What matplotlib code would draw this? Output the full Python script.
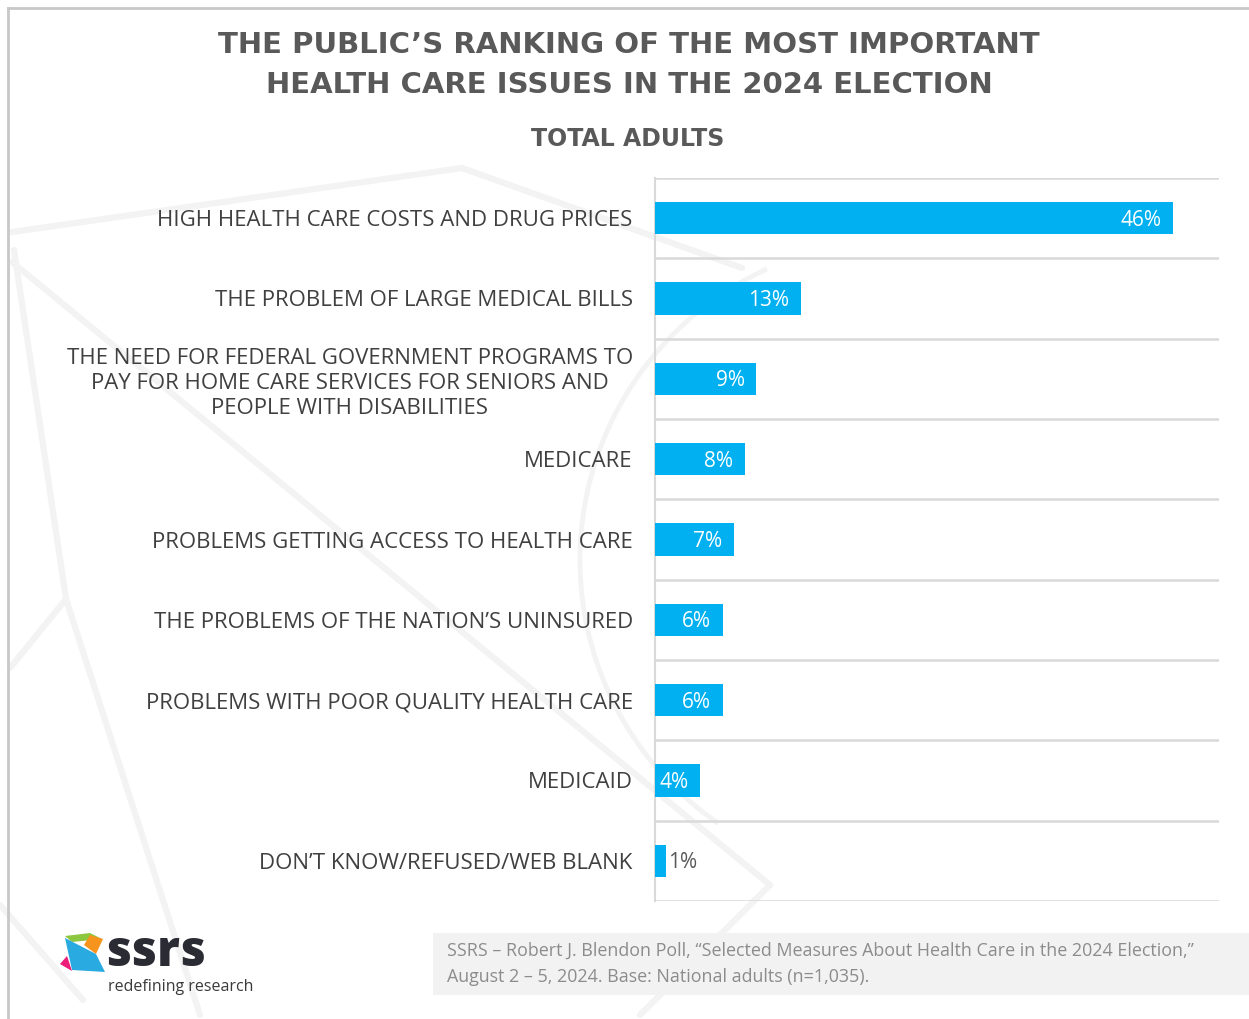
import matplotlib
matplotlib.use("Agg")
import matplotlib.pyplot as plt
from matplotlib.patches import Polygon, Rectangle
from matplotlib.lines import Line2D
import numpy as np

categories = [
    "HIGH HEALTH CARE COSTS AND DRUG PRICES",
    "THE PROBLEM OF LARGE MEDICAL BILLS",
    "THE NEED FOR FEDERAL GOVERNMENT PROGRAMS TO\nPAY FOR HOME CARE SERVICES FOR SENIORS AND\nPEOPLE WITH DISABILITIES",
    "MEDICARE",
    "PROBLEMS GETTING ACCESS TO HEALTH CARE",
    "THE PROBLEMS OF THE NATION\u2019S UNINSURED",
    "PROBLEMS WITH POOR QUALITY HEALTH CARE",
    "MEDICAID",
    "DON\u2019T KNOW/REFUSED/WEB BLANK",
]
values = [46, 13, 9, 8, 7, 6, 6, 4, 1]
value_labels = ["46%", "13%", "9%", "8%", "7%", "6%", "6%", "4%", "1%"]

title = "THE PUBLIC\u2019S RANKING OF THE MOST IMPORTANT\nHEALTH CARE ISSUES IN THE 2024 ELECTION"
subtitle = "TOTAL ADULTS"
source = ("SSRS \u2013 Robert J. Blendon Poll, \u201cSelected Measures About Health Care in the 2024 Election,\u201d\n"
          "August 2 \u2013 5, 2024. Base: National adults (n=1,035).")

W, H = 1249, 1019
fig = plt.figure(figsize=(W / 100, H / 100), dpi=100)
fig.patch.set_facecolor("white")

def fx(x):
    return x / W

def fy(y):
    return 1 - y / H

# faint background watermark lines
wm = "#f3f3f3"
wm_lines = [
    [(12, 232), (462, 168), (742, 268)],
    [(12, 262), (770, 885), (640, 1015)],
    [(14, 250), (66, 599), (200, 1015)],
    [(66, 599), (10, 668)],
    [(0, 905), (83, 1000)],
]
for pts in wm_lines:
    xs = [fx(p[0]) for p in pts]
    ys = [fy(p[1]) for p in pts]
    fig.add_artist(Line2D(xs, ys, color=wm, lw=4.5, solid_capstyle="round",
                          solid_joinstyle="round", zorder=0))
# arc on right
t = np.linspace(np.radians(115), np.radians(235), 80)
cx, cy, rx, ry = 900, 560, 320, 320
ax_arc = [fx(cx + rx * np.cos(a)) for a in t]
ay_arc = [fy(cy - ry * np.sin(a)) for a in t]
fig.add_artist(Line2D(ax_arc, ay_arc, color=wm, lw=3.5, zorder=0))

# outer frame lines
fig.add_artist(Line2D([fx(8), fx(1249)], [fy(8), fy(8)], color="#c8c8c8", lw=2, zorder=1))
fig.add_artist(Line2D([fx(8), fx(8)], [fy(8), fy(1019)], color="#c8c8c8", lw=2, zorder=1))

# main axes
ax = fig.add_axes([fx(655), fy(901), fx(1219) - fx(655), fy(178) - fy(901)])
ax.patch.set_alpha(0)
n = len(categories)
y = np.arange(n)
bar_color = "#00b0f0"
ax.barh(y, values, height=0.4, color=bar_color, zorder=3)
ax.set_xlim(0, 50.1)
ax.set_ylim(n - 0.5, -0.5)
ax.set_xticks([])
ax.set_yticks(y)
ax.set_yticklabels(categories, fontsize=16, family="Open Sans", color="#404040",
                   multialignment="center", linespacing=1.25)
ax.tick_params(axis="y", length=0, pad=16)
for s in ["top", "right", "bottom"]:
    ax.spines[s].set_visible(False)
ax.spines["left"].set_color("#d9d9d9")
ax.spines["left"].set_linewidth(1.5)
for b in np.arange(-0.5, n, 1.0):
    ax.axhline(b, color="#d9d9d9", lw=1.8, zorder=1)

for yi, v, lab in zip(y, values, value_labels):
    if v >= 3:
        ax.annotate(lab, (v, yi), xytext=(-8.5, -1.5), textcoords="offset points",
                    ha="right", va="center", color="white", fontsize=15,
                    family="Open Sans", zorder=4)
    else:
        ax.annotate(lab, (v, yi), xytext=(1.0, -1.5), textcoords="offset points",
                    ha="left", va="center", color="#595959", fontsize=15,
                    family="Open Sans", zorder=4)

# titles
fig.text(fx(629), fy(65), title, ha="center", va="center", fontsize=21,
         family="DejaVu Sans", fontweight="bold",
         color="#595959", linespacing=1.55)
fig.text(fx(628), fy(139), subtitle, ha="center", va="center", fontsize=17,
         family="DejaVu Sans", fontweight="bold",
         color="#595959")

# source box
fig.add_artist(Rectangle((fx(433), fy(995)), fx(1249) - fx(433), fy(933) - fy(995),
                         facecolor="#f2f2f2", edgecolor="none", zorder=1))
fig.text(fx(447), fy(964), source, ha="left", va="center", fontsize=12.9,
         family="Open Sans", color="#8c8c8c", linespacing=1.6, zorder=2)

# logo
logo_shapes = [
    ([(65, 936), (90, 933), (102, 939), (72, 942)], "#8dc63f"),
    ([(90, 935), (103, 939), (96, 954), (84, 945)], "#f7941d"),
    ([(65, 938), (96, 954), (105, 972), (72, 970)], "#29abe2"),
    ([(60, 964), (67, 956), (72, 971)], "#ec1e79"),
]
for pts, c in logo_shapes:
    fig.add_artist(Polygon([(fx(a), fy(b)) for a, b in pts], closed=True,
                           facecolor=c, edgecolor="none", zorder=2))
fig.text(fx(105), fy(966), "ssrs", ha="left", va="baseline", fontsize=35,
         family="Open Sans", fontweight="heavy", color="#2b2b33")
fig.text(fx(108), fy(991), "redefining research", ha="left", va="baseline",
         fontsize=11.5, family="Open Sans", color="#3a3a3a")

fig.savefig("out.png", dpi=100, facecolor="white")
